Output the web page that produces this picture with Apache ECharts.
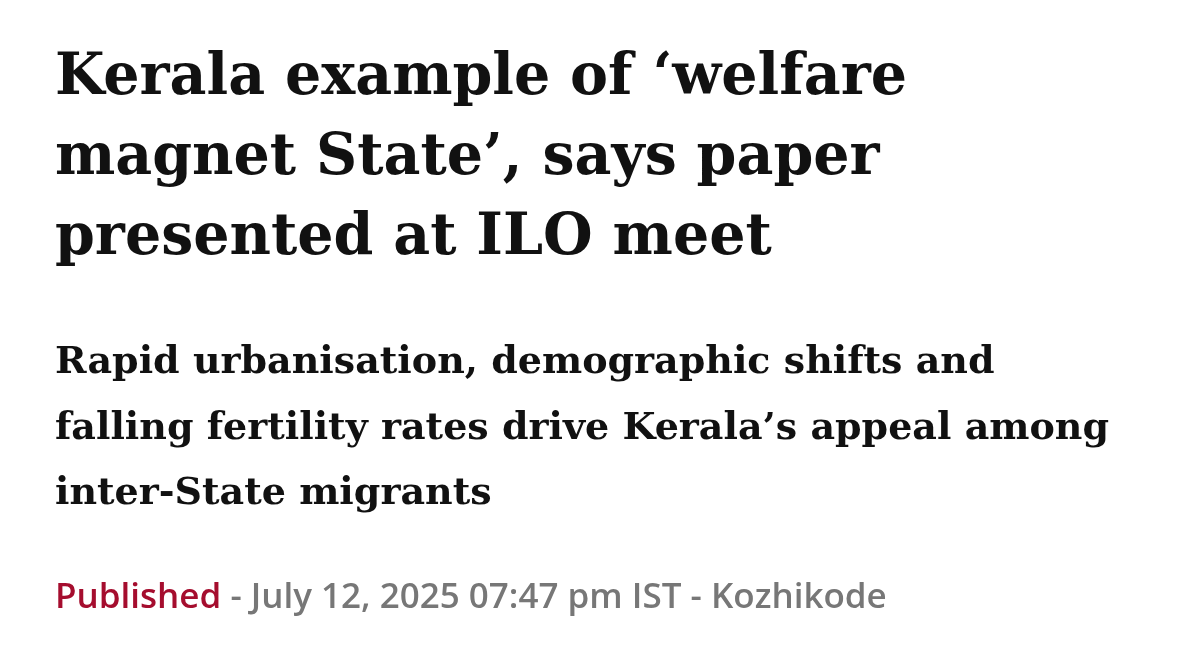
<!DOCTYPE html>
<html><head><meta charset="utf-8">
<script src="https://cdn.jsdelivr.net/npm/echarts@6/dist/echarts.min.js"></script>
<style>html,body{margin:0;padding:0;background:#fff}#c{width:1178px;height:652px}</style>
</head><body><div id="c"></div>
<script>
const titleLines = ["Kerala example of \u2018welfare", "magnet State\u2019, says paper", "presented at ILO meet"];
const subLines = ["Rapid urbanisation, demographic shifts and", "falling fertility rates drive Kerala\u2019s appeal among", "inter-State migrants"];
const pubLabel = "Published";
const pubRest = " - July 12, 2025 07:47 pm IST - Kozhikode";

const titleY = [83, 163, 243];
const subY = [366, 432, 497];
const pubFont = '600 35px "Open Sans"';
const ctx = document.createElement('canvas').getContext('2d');
ctx.font = pubFont;
const lw = ctx.measureText(pubLabel).width;
const g = [];
titleLines.forEach((t, i) => g.push({type:'text', id:'t'+i, left:55, top:titleY[i]-32, style:{text:t, font:'bold 57px "DejaVu Serif"', fill:'#111'}}));
subLines.forEach((t, i) => g.push({type:'text', id:'s'+i, left:55, top:subY[i]-22, style:{text:t, font:'bold 38px "DejaVu Serif"', fill:'#111'}}));
g.push({type:'text', id:'p0', left:55, top:581, style:{text:pubLabel, font:pubFont, fill:'#a50d2e'}});
g.push({type:'text', id:'p1', left:55+lw, top:581, style:{text:pubRest, font:pubFont, fill:'#777'}});
const chart = echarts.init(document.getElementById('c'));
chart.setOption({backgroundColor:'#fff', graphic:g});
</script></body></html>
